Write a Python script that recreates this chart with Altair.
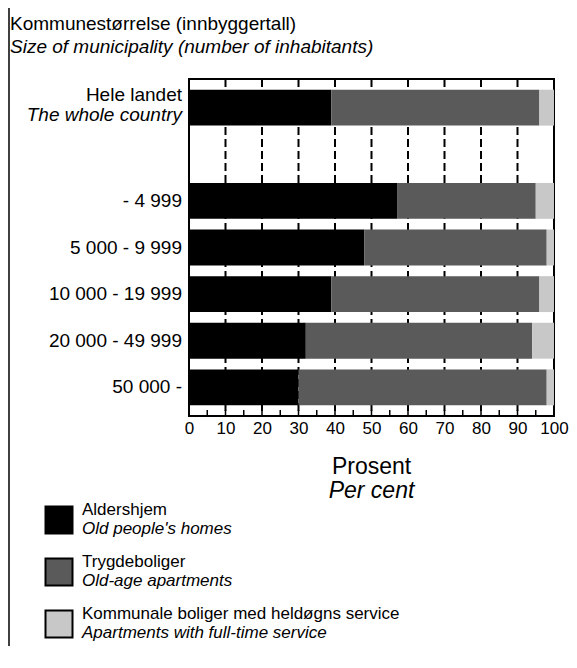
import altair as alt
import pandas as pd

FONT = "Liberation Sans"

# ---- data -------------------------------------------------------------
categories = ["Hele landet", " ", "- 4 999", "5 000 - 9 999",
              "10 000 - 19 999", "20 000 - 49 999", "50 000 -"]
data_categories = ["Hele landet", "- 4 999", "5 000 - 9 999",
                   "10 000 - 19 999", "20 000 - 49 999", "50 000 -"]
series_no = ["Aldershjem", "Trygdeboliger",
             "Kommunale boliger med heldøgns service"]
series_en = ["Old people's homes", "Old-age apartments",
             "Apartments with full-time service"]
aldershjem = [39, 57, 48, 39, 32, 30]
trygdeboliger = [57, 38, 50, 57, 62, 68]
kommunale = [4, 5, 2, 4, 6, 2]
x_ticks = [0, 10, 20, 30, 40, 50, 60, 70, 80, 90, 100]
grid_vals = [10, 20, 30, 40, 50, 60, 70, 80, 90]
minor_vals = [5, 10, 15, 20, 25, 30, 35, 40, 45, 50, 55, 60, 65, 70, 75, 80, 85, 90, 95]
title_no = "Kommunestørrelse (innbyggertall)"
title_en = "Size of municipality (number of inhabitants)"
xtitle_no = "Prosent"
xtitle_en = "Per cent"
colors = ["#000000", "#5a5a5a", "#c8c8c8"]

# ---- tables -----------------------------------------------------------
rows = []
for i, cat in enumerate(data_categories):
    for j, vals in enumerate([aldershjem, trygdeboliger, kommunale]):
        rows.append({"category": cat, "series": series_no[j], "idx": j, "value": vals[i]})
df = pd.DataFrame(rows)
leg = pd.DataFrame({"series": series_no, "en": series_en})

W, H = 365, 337
LEFT, TOP, RIGHT, BOTTOM = 181, 71, 15, 230

xaxis = alt.Axis(values=x_ticks, ticks=False, domain=False, grid=False,
                 labelFontSize=17, labelPadding=4, labelColor="black",
                 labelFont=FONT, title=None, labelFlush=False)
xscale = alt.Scale(domain=[0, 100], nice=False)
ycat_scale = alt.Scale(type="band", domain=categories, paddingInner=0.23, paddingOuter=0.23)
color_scale = alt.Scale(domain=series_no, range=colors)
leg_y = alt.Y("series:N", scale=alt.Scale(type="point", domain=series_no, range=[441, 545], padding=0),
              axis=None)

grid = alt.Chart(pd.DataFrame({"value": grid_vals})).mark_rule(
    color="black", strokeWidth=2, strokeDash=[8, 4]
).encode(x=alt.X("value:Q", scale=xscale, axis=xaxis), y=alt.value(0), y2=alt.value(H))

minor = alt.Chart(pd.DataFrame({"value": minor_vals})).mark_rule(
    color="black", strokeWidth=1.5
).encode(x=alt.X("value:Q", scale=xscale, axis=xaxis), y=alt.value(H), y2=alt.value(H - 6))

bars = alt.Chart(df).mark_bar().encode(
    x=alt.X("value:Q", stack="zero", scale=xscale, axis=xaxis),
    y=alt.Y("category:N", scale=ycat_scale, axis=None),
    color=alt.Color("series:N", scale=color_scale, legend=None),
    order=alt.Order("idx:Q"),
)

ylab = alt.Y("category:N", scale=ycat_scale, axis=None, bandPosition=0.5)
lab_style = dict(align="right", baseline="middle", fontSize=19, font=FONT, color="black")
labels = alt.Chart(pd.DataFrame({"category": data_categories[1:]})).mark_text(**lab_style).encode(
    y=ylab, x=alt.value(-7), text="category:N")
hele1 = alt.Chart(pd.DataFrame({"category": ["Hele landet"], "txt": ["Hele landet"]})).mark_text(
    dy=-13, **lab_style).encode(y=ylab, x=alt.value(-7), text="txt:N")
hele2 = alt.Chart(pd.DataFrame({"category": ["Hele landet"], "txt": ["The whole country"]})).mark_text(
    dy=7, fontStyle="italic", **lab_style).encode(y=ylab, x=alt.value(-7), text="txt:N")

txt_style = dict(baseline="alphabetic", font=FONT, color="black")
t1 = alt.Chart(pd.DataFrame({"t": [title_no]})).mark_text(align="left", fontSize=19, **txt_style).encode(
    x=alt.value(-179), y=alt.value(-49), text="t:N")
t2 = alt.Chart(pd.DataFrame({"t": [title_en]})).mark_text(align="left", fontSize=19, fontStyle="italic",
                                                          **txt_style).encode(
    x=alt.value(-179), y=alt.value(-26), text="t:N")
a1 = alt.Chart(pd.DataFrame({"t": [xtitle_no]})).mark_text(align="center", fontSize=23, **txt_style).encode(
    x=alt.value(W / 2), y=alt.value(395), text="t:N")
a2 = alt.Chart(pd.DataFrame({"t": [xtitle_en]})).mark_text(align="center", fontSize=23, fontStyle="italic",
                                                           **txt_style).encode(
    x=alt.value(W / 2), y=alt.value(419), text="t:N")

squares = alt.Chart(leg).mark_square(size=27 * 27, stroke="black", strokeWidth=2, opacity=1).encode(
    x=alt.value(-130), y=leg_y, color=alt.Color("series:N", scale=color_scale, legend=None))
leg_style = dict(align="left", baseline="middle", fontSize=17, font=FONT, color="black")
leg1 = alt.Chart(leg).mark_text(dy=-10, **leg_style).encode(x=alt.value(-107), y=leg_y, text="series:N")
leg2 = alt.Chart(leg).mark_text(dy=9, fontStyle="italic", **leg_style).encode(
    x=alt.value(-107), y=leg_y, text="en:N")

border = alt.Chart(pd.DataFrame({"a": [0]})).mark_rule(color="black", strokeWidth=1.5).encode(
    x=alt.value(-180), y=alt.value(-TOP), y2=alt.value(H + BOTTOM))

chart = alt.layer(
    grid, minor, bars, labels, hele1, hele2, t1, t2, a1, a2, squares, leg1, leg2, border
).resolve_scale(y="independent").properties(
    width=W, height=H,
    padding={"left": LEFT, "top": TOP, "right": RIGHT, "bottom": BOTTOM},
    autosize=alt.AutoSizeParams(type="none"),
    background="white",
).configure_view(stroke="black", strokeWidth=2)

chart.save("out.html", embed_options={"renderer": "svg", "actions": False})
